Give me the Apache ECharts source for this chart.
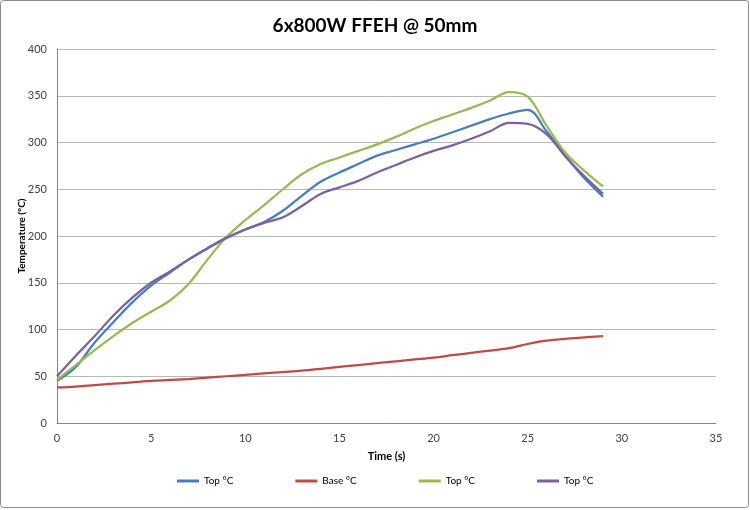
<!DOCTYPE html>
<html>
<head>
<meta charset="utf-8">
<script src="https://cdn.jsdelivr.net/npm/echarts@6/dist/echarts.min.js"></script>
<style>
html,body{margin:0;padding:0;background:#fff;}
#chart{width:750px;height:510px;}
</style>
</head>
<body>
<div id="chart"></div>
<script>
const titleText = '6x800W FFEH @ 50mm';
const xName = 'Time (s)';
const yName = 'Temperature (°C)';
const times = [0,1,2,3,4,5,6,7,8,9,10,11,12,13,14,15,16,17,18,19,20,21,22,23,24,25,26,27,28,29];
const seriesNames = ['Top °C', 'Base °C', 'Top °C', 'Top °C'];
const topBlue = [45,60,86,108,129,147,161,175,187,198,207,215,227,243,258,268,277,286,292,298,304,311,318,325,331,335,312,286,262,242];
const baseRed = [38,39,40.5,42,43.5,45,46,47,48.5,50,51.5,53,54.5,56,58,60,62,64,66,68,70,72.5,75,77.5,80,84.5,88,90,91.5,93];
const topGreen = [46,62,78,93,107,119,131,149,175,199,217,233,250,266,277,284,291,298,306,315,323,330,337,345,354,349,318,289,270,253];
const topPurple = [50,72,93,115,134,150,162,175,187,198,207,214,220,232,245,252,259,268,276,284,291,297,304,312,321,320,309,285,264,245];
const xTicks = {min: 0, max: 35, interval: 5};
const yTicks = {min: 0, max: 400, interval: 50};

const colors = ['#4A7EBB', '#BE4B48', '#98B954', '#7D60A0'];
const values = [topBlue, baseRed, topGreen, topPurple];
const font = 'Lato, "Open Sans", sans-serif';
const ids = values.map((v, i) => 'series' + i);

const chart = echarts.init(document.getElementById('chart'), null, {renderer: 'canvas'});
const series = values.map((vals, i) => ({
  name: ids[i],
  type: 'line',
  data: times.map((t, j) => [t, vals[j]]),
  smooth: 0.35,
  symbol: 'none',
  showSymbol: false,
  lineStyle: {color: colors[i], width: 2.25},
  itemStyle: {color: colors[i]},
  emphasis: {disabled: true}
}));

chart.setOption({
  animation: false,
  backgroundColor: '#fff',
  title: {
    text: titleText,
    left: 'center',
    top: 11,
    textStyle: {fontFamily: font, fontWeight: 'bold', fontSize: 19, color: '#000'}
  },
  grid: {left: 57, right: 34, top: 49, bottom: 87},
  legend: {
    top: 471,
    left: 172,
    icon: 'rect',
    itemWidth: 22,
    itemHeight: 3,
    itemGap: 62,
    formatter: function (name) { return seriesNames[ids.indexOf(name)]; },
    textStyle: {fontFamily: font, fontSize: 10, color: '#000'},
    data: ids.map(n => ({name: n, icon: 'rect'}))
  },
  xAxis: {
    type: 'value',
    min: xTicks.min, max: xTicks.max, interval: xTicks.interval,
    name: xName,
    nameLocation: 'middle',
    nameGap: 28,
    nameMoveOverlap: false,
    nameTextStyle: {fontFamily: font, fontWeight: 'bold', fontSize: 11, color: '#000'},
    axisLine: {show: true, lineStyle: {color: '#868686', width: 1}},
    axisTick: {show: false},
    splitLine: {show: false},
    axisLabel: {fontFamily: font, fontSize: 11, color: '#404040', margin: 10}
  },
  yAxis: {
    type: 'value',
    min: yTicks.min, max: yTicks.max, interval: yTicks.interval,
    name: yName,
    nameLocation: 'middle',
    nameGap: 30,
    nameMoveOverlap: false,
    nameRotate: 90,
    nameTextStyle: {fontFamily: font, fontWeight: 'bold', fontSize: 10, color: '#000'},
    axisLine: {show: true, lineStyle: {color: '#868686', width: 1}},
    axisTick: {show: false},
    splitLine: {show: true, lineStyle: {color: '#b8b8b8', width: 1}},
    axisLabel: {fontFamily: font, fontSize: 11, color: '#404040', margin: 10}
  },
  graphic: [{
    type: 'rect',
    shape: {x: 0.5, y: 0.5, width: 748, height: 507, r: 3},
    style: {fill: 'none', stroke: '#8c8c8c', lineWidth: 1},
    silent: true,
    z: 100
  }],
  series: series
});
</script>
</body>
</html>
